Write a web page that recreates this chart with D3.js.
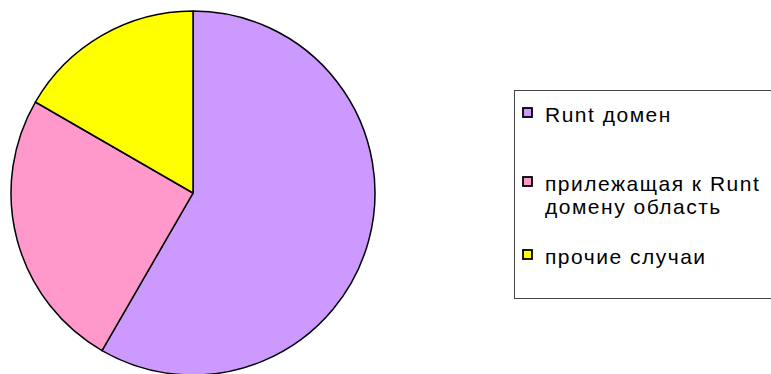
<!DOCTYPE html>
<html><head><meta charset="utf-8">
<script src="https://cdn.jsdelivr.net/npm/d3@7/dist/d3.min.js"></script>
<style>html,body{margin:0;padding:0;background:#fff;overflow:hidden}</style>
</head><body>
<svg id="c" width="771" height="374"></svg>
<script>
const categories = ["Runt домен", "прилежащая к Runt домену область", "прочие случаи"];
const legendLines = [["Runt домен"], ["прилежащая к Runt", "домену область"], ["прочие случаи"]];
const values = [35, 15, 10];
const colors = ["#CC99FF", "#FF99CC", "#FFFF00"];

const svg = d3.select("#c");
const cx = 193, cy = 193, r = 182;
const pie = d3.pie().sort(null).value(d => d)(values);
const arc = d3.arc().innerRadius(0).outerRadius(r);
const g = svg.append("g").attr("transform", `translate(${cx},${cy})`);
g.selectAll("path").data(pie).join("path")
  .attr("d", arc)
  .attr("fill", (d, i) => colors[i])
  .attr("stroke", "#000").attr("stroke-width", 1.5).attr("stroke-linejoin", "round");

// legend
svg.append("rect").attr("x", 514.5).attr("y", 90.5).attr("width", 270).attr("height", 208)
  .attr("fill", "#fff").attr("stroke", "#444").attr("stroke-width", 1);
const rows = [108, 177, 250];
const lg = svg.append("g");
legendLines.forEach((lines, i) => {
  lg.append("rect").attr("x", 523).attr("y", rows[i]).attr("width", 9).attr("height", 9)
    .attr("fill", colors[i]).attr("stroke", "#000").attr("stroke-width", 1.8);
  lines.forEach((ln, j) => lg.append("text").attr("x", 545).attr("y", rows[i] + 14 + j * 23)
    .attr("font-family", "Liberation Sans, Arial, sans-serif").attr("font-size", 21)
    .attr("letter-spacing", 1.5).attr("fill", "#000").text(ln));
});
</script>
</body></html>
